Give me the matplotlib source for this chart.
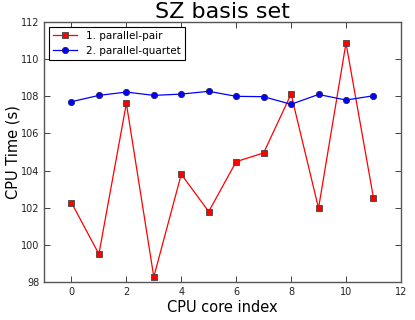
import matplotlib
matplotlib.use("Agg")
import matplotlib.pyplot as plt

cores = [0, 1, 2, 3, 4, 5, 6, 7, 8, 9, 10, 11]
pair_times = [102.27, 99.5, 107.62, 98.27, 103.8, 101.79, 104.48, 104.95, 108.12, 101.97, 110.87, 102.54]
quartet_times = [107.71, 108.05, 108.23, 108.05, 108.12, 108.27, 108.0, 107.98, 107.57, 108.1, 107.8, 108.03]

plt.rcParams['xtick.direction'] = 'in'
plt.rcParams['ytick.direction'] = 'in'
plt.rcParams['xtick.top'] = True
plt.rcParams['ytick.right'] = True

fig = plt.figure(figsize=(4.15, 3.2), dpi=100)
ax = fig.add_axes([0.106, 0.119, 0.860, 0.812])

ax.plot(cores, pair_times, color='red', marker='s', markersize=4.5, markeredgecolor='#444444',
        markeredgewidth=0.6, linewidth=0.9, label='1. parallel-pair')
ax.plot(cores, quartet_times, color='blue', marker='o', markersize=4.5, markeredgecolor='#222266',
        markeredgewidth=0.6, linewidth=0.9, label='2. parallel-quartet')

ax.set_xlim(-1, 12)
ax.set_ylim(98, 112)
ax.set_xticks([0, 2, 4, 6, 8, 10, 12])
ax.set_yticks([98, 100, 102, 104, 106, 108, 110, 112])
ax.tick_params(labelsize=7, length=4, width=0.6, colors='#222222')
for s in ax.spines.values():
    s.set_color('#555555')
    s.set_linewidth(1.0)

ax.set_title('SZ basis set', fontsize=16, pad=3)
ax.set_xlabel('CPU core index', fontsize=10.5, labelpad=2)
ax.set_ylabel('CPU Time (s)', fontsize=10.5)
ax.yaxis.set_label_coords(-0.066, 0.5)

leg = ax.legend(loc='upper left', fontsize=7.5, fancybox=False, framealpha=1,
                borderaxespad=0.45, handlelength=2.3, borderpad=0.4, labelspacing=0.45,
                handletextpad=0.9)
leg.get_frame().set_edgecolor('black')
leg.get_frame().set_linewidth(0.8)

fig.savefig('out.png', dpi=100)
